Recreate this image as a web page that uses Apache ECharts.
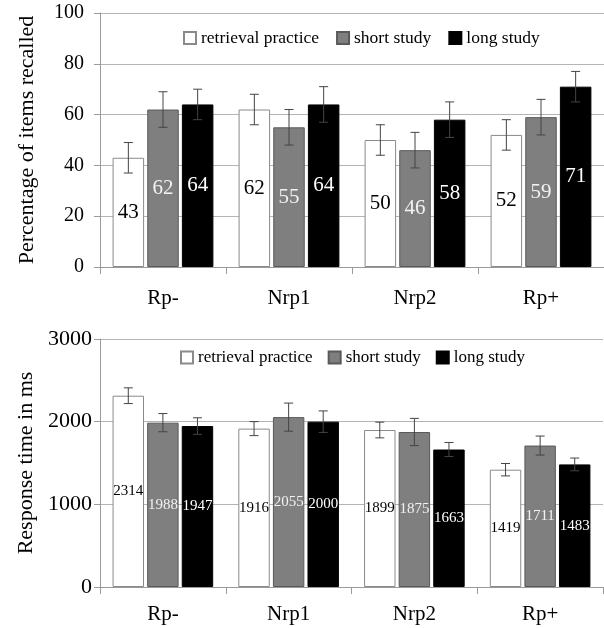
<!DOCTYPE html>
<html>
<head>
<meta charset="utf-8">
<script src="https://cdn.jsdelivr.net/npm/echarts@6/dist/echarts.min.js"></script>
<style>
html,body{margin:0;padding:0;background:#fff;}
#main{width:604px;height:628px;}
</style>
</head>
<body>
<div id="main"></div>
<script>
// ---- data ----
const categories = ['Rp-', 'Nrp1', 'Nrp2', 'Rp+'];
const seriesNames = ['retrieval practice', 'short study', 'long study'];

const recallRP = [43, 62, 50, 52];
const recallSS = [62, 55, 46, 59];
const recallLS = [64, 64, 58, 71];
const recallErrRP = [6, 6, 6, 6];
const recallErrSS = [7, 7, 7, 7];
const recallErrLS = [6, 7, 7, 6];

const rtRP = [2314, 1916, 1899, 1419];
const rtSS = [1988, 2055, 1875, 1711];
const rtLS = [1947, 2000, 1663, 1483];
const rtErrRP = [95, 85, 95, 75];
const rtErrSS = [110, 170, 165, 115];
const rtErrLS = [100, 130, 85, 77];

const yTopName = 'Percentage of items recalled';
const yBottomName = 'Response time in ms';

// ---- styling ----
const FONT = 'Liberation Serif';
const fills = ['#ffffff', '#7f7f7f', '#000000'];
const borders = ['#8a8a8a', '#5a5a5a', '#000000'];
const labelColors = ['#000000', '#f2f2f2', '#ffffff'];
const GRID_COLOR = '#b4b4b4';
const AXIS_COLOR = '#9a9a9a';
const CAT_GAP = 0.2, BAR_GAP = 0.1;

function errSeries(idx, axisIdx, vals, errs) {
  return {
    type: 'custom',
    name: 'err' + axisIdx + '_' + idx,
    xAxisIndex: axisIdx, yAxisIndex: axisIdx,
    z: 10,
    silent: true,
    data: vals.map((v, i) => [i, v - errs[i], v + errs[i]]),
    encode: { x: 0, y: [1, 2] },
    renderItem: function (params, api) {
      const cat = api.value(0);
      const lo = api.coord([cat, api.value(1)]);
      const hi = api.coord([cat, api.value(2)]);
      const catW = api.size([1, 0])[0];
      const usable = catW * (1 - CAT_GAP);
      const bw = usable / (3 + 2 * BAR_GAP);
      const x = lo[0] - usable / 2 + bw / 2 + idx * bw * (1 + BAR_GAP);
      const h = 4.5;
      const st = { stroke: '#444444', lineWidth: 1 };
      return {
        type: 'group',
        children: [
          { type: 'line', shape: { x1: x, y1: lo[1], x2: x, y2: hi[1] }, style: st },
          { type: 'line', shape: { x1: x - h, y1: lo[1], x2: x + h, y2: lo[1] }, style: st },
          { type: 'line', shape: { x1: x - h, y1: hi[1], x2: x + h, y2: hi[1] }, style: st }
        ]
      };
    }
  };
}

function barSeries(idx, axisIdx, vals, fontSize) {
  return {
    type: 'bar',
    name: seriesNames[idx],
    xAxisIndex: axisIdx, yAxisIndex: axisIdx,
    data: vals,
    barCategoryGap: (CAT_GAP * 100) + '%',
    barGap: (BAR_GAP * 100) + '%',
    itemStyle: { color: fills[idx], borderColor: borders[idx], borderWidth: 1 },
    label: {
      show: true, position: 'inside',
      color: labelColors[idx], fontFamily: FONT, fontSize: fontSize
    },
    emphasis: { disabled: true }
  };
}

const topVals = [recallRP, recallSS, recallLS];
const topErrs = [recallErrRP, recallErrSS, recallErrLS];
const botVals = [rtRP, rtSS, rtLS];
const botErrs = [rtErrRP, rtErrSS, rtErrLS];

const series = [];
for (let i = 0; i < 3; i++) series.push(barSeries(i, 0, topVals[i], 21));
for (let i = 0; i < 3; i++) series.push(barSeries(i, 1, botVals[i], 15));
for (let i = 0; i < 3; i++) series.push(errSeries(i, 0, topVals[i], topErrs[i]));
for (let i = 0; i < 3; i++) series.push(errSeries(i, 1, botVals[i], botErrs[i]));

function xAxis(gridIdx, margin) {
  return {
    type: 'category', gridIndex: gridIdx, data: categories,
    axisLine: { lineStyle: { color: AXIS_COLOR } },
    axisTick: { show: true, length: 7, lineStyle: { color: AXIS_COLOR } },
    axisLabel: { color: '#000', fontFamily: FONT, fontSize: 21, margin: margin }
  };
}
function yAxis(gridIdx, max, interval, name, fontSize, margin, nameGap) {
  return {
    type: 'value', gridIndex: gridIdx, min: 0, max: max, interval: interval,
    name: name, nameLocation: 'middle', nameRotate: 90, nameGap: nameGap,
    nameTextStyle: { color: '#000', fontFamily: FONT, fontSize: 22 },
    axisLine: { show: true, lineStyle: { color: AXIS_COLOR } },
    axisTick: { show: true, length: 6, lineStyle: { color: AXIS_COLOR } },
    axisLabel: { color: '#000', fontFamily: FONT, fontSize: fontSize, margin: margin,
      formatter: function (v) { return String(v); } },
    splitLine: { show: true, lineStyle: { color: GRID_COLOR } }
  };
}

const legendCommon = {
  icon: 'rect', itemWidth: 12, itemHeight: 12, padding: 0,
  selectedMode: false,
  data: seriesNames
};

const option = {
  animation: false,
  backgroundColor: '#ffffff',
  grid: [
    { left: 100, top: 13, width: 514, height: 254 },
    { left: 100, top: 339, width: 503, height: 248 }
  ],
  legend: [
    Object.assign({}, legendCommon, { left: 183, top: 29, itemGap: 17,
      textStyle: { fontFamily: FONT, fontSize: 17.5, color: '#000' } }),
    Object.assign({}, legendCommon, { left: 180, top: 349, itemGap: 15,
      textStyle: { fontFamily: FONT, fontSize: 17, color: '#000' } })
  ],
  xAxis: [xAxis(0, 21), xAxis(1, 17)],
  yAxis: [
    yAxis(0, 100, 20, yTopName, 20, 16, 62),
    yAxis(1, 3000, 1000, yBottomName, 22, 8, 62)
  ],
  series: series
};

const chart = echarts.init(document.getElementById('main'), null, { renderer: 'canvas' });
chart.setOption(option);
</script>
</body>
</html>
